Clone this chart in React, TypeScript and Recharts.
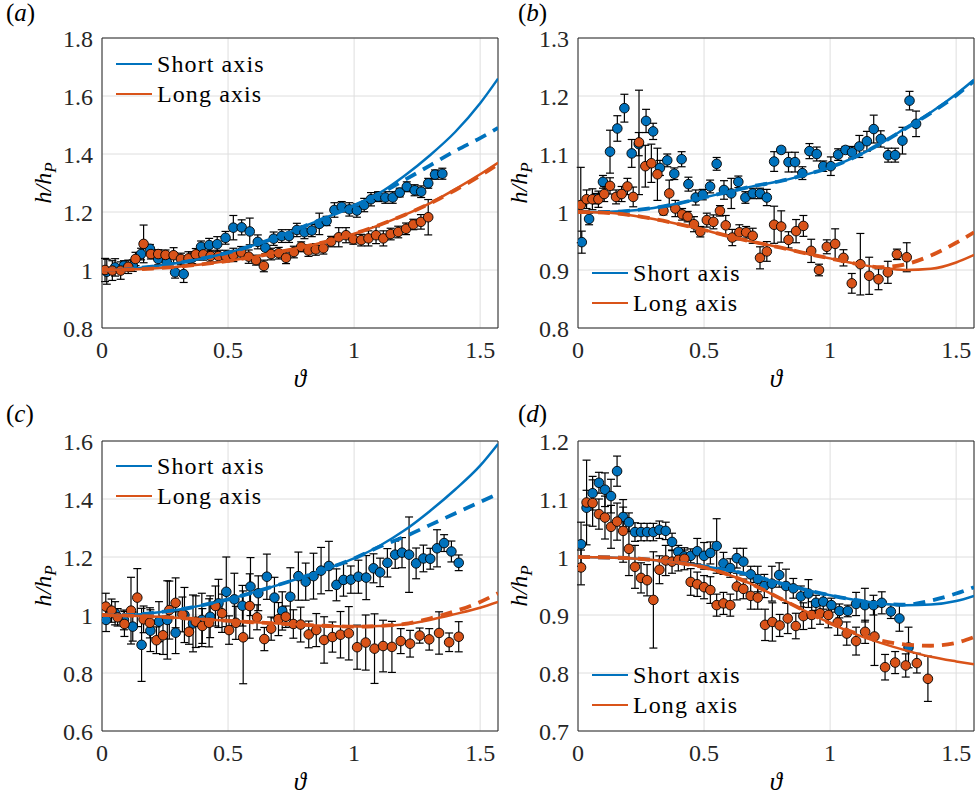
import React from 'react';
import {
  CartesianGrid,
  ComposedChart,
  ErrorBar,
  Legend,
  Line,
  Scatter,
  XAxis,
  YAxis,
} from 'recharts';

const BLUE = '#0072BD';
const ORANGE = '#D95319';
const AXIS = '#262626';
const GRID = '#dedede';
const FONT =
  "'Liberation Serif', 'DejaVu Serif', 'Noto Serif', 'Times New Roman', Times, FreeSerif, Georgia, serif";

type Pt = [number, number, number];
type Fit = [number, number];

// shared axis data
const xTicks = [0, 0.5, 1, 1.5];
const X_MAX = 1.5708;
const aTicks = [0.8, 1, 1.2, 1.4, 1.6, 1.8];
const bTicks = [0.8, 0.9, 1, 1.1, 1.2, 1.3];
const cTicks = [0.6, 0.8, 1, 1.2, 1.4, 1.6];
const dTicks = [0.7, 0.8, 0.9, 1, 1.1, 1.2];
const legendLabels = ['Short axis', 'Long axis'];

// (a) measured points: [theta, h/hP, error]
const aShortPts: Pt[] = [
  [0.019, 0.994, 0.043], [0.052, 1.009, 0.03], [0.087, 1.015, 0.017], [0.122, 1.015, 0.02],
  [0.155, 1.055, 0.02], [0.19, 1.073, 0.015], [0.223, 1.038, 0.02], [0.257, 1.027, 0.018],
  [0.29, 0.992, 0.02], [0.324, 0.986, 0.029], [0.358, 1.042, 0.02], [0.393, 1.08, 0.02],
  [0.425, 1.086, 0.023], [0.457, 1.089, 0.026], [0.49, 1.111, 0.022], [0.521, 1.146, 0.042],
  [0.554, 1.147, 0.026], [0.586, 1.133, 0.046], [0.618, 1.097, 0.024], [0.648, 1.077, 0.021],
  [0.681, 1.108, 0.023], [0.713, 1.117, 0.022], [0.742, 1.117, 0.022], [0.773, 1.138, 0.023],
  [0.803, 1.13, 0.022], [0.832, 1.136, 0.021], [0.862, 1.159, 0.037], [0.891, 1.169, 0.016],
  [0.922, 1.207, 0.025], [0.951, 1.218, 0.018], [0.981, 1.209, 0.023], [1.011, 1.205, 0.023],
  [1.04, 1.224, 0.023], [1.067, 1.244, 0.023], [1.095, 1.253, 0.017], [1.124, 1.25, 0.02],
  [1.153, 1.25, 0.02], [1.181, 1.267, 0.015], [1.209, 1.287, 0.017], [1.24, 1.275, 0.019],
  [1.266, 1.27, 0.02], [1.294, 1.299, 0.017], [1.321, 1.329, 0.016], [1.35, 1.332, 0.019],
];
const aLongPts: Pt[] = [
  [0.012, 1.0, 0.04], [0.041, 0.998, 0.034], [0.074, 0.998, 0.03], [0.104, 1.011, 0.023],
  [0.133, 1.038, 0.023], [0.165, 1.09, 0.065], [0.194, 1.055, 0.017], [0.223, 1.055, 0.015],
  [0.252, 1.052, 0.017], [0.284, 1.051, 0.026], [0.313, 1.038, 0.02], [0.343, 1.04, 0.023],
  [0.372, 1.054, 0.02], [0.402, 1.054, 0.02], [0.431, 1.048, 0.02], [0.462, 1.048, 0.02],
  [0.491, 1.048, 0.02], [0.521, 1.052, 0.023], [0.552, 1.061, 0.02], [0.582, 1.046, 0.023],
  [0.611, 1.034, 0.017], [0.642, 1.014, 0.02], [0.671, 1.055, 0.02], [0.701, 1.058, 0.02],
  [0.73, 1.042, 0.02], [0.761, 1.062, 0.02], [0.79, 1.08, 0.017], [0.819, 1.067, 0.02],
  [0.848, 1.071, 0.02], [0.878, 1.075, 0.02], [0.909, 1.098, 0.018], [0.939, 1.113, 0.033],
  [0.968, 1.12, 0.026], [0.997, 1.106, 0.017], [1.028, 1.103, 0.02], [1.057, 1.109, 0.026],
  [1.087, 1.12, 0.029], [1.116, 1.109, 0.026], [1.145, 1.124, 0.02], [1.175, 1.131, 0.02],
  [1.206, 1.142, 0.02], [1.235, 1.157, 0.018], [1.265, 1.166, 0.025], [1.294, 1.182, 0.061],
];
const aShortFit: Fit[] = [
  [0, 1.0], [0.1, 1.003], [0.2, 1.012], [0.3, 1.024], [0.4, 1.04], [0.5, 1.06], [0.6, 1.085],
  [0.7, 1.115], [0.8, 1.15], [0.9, 1.185], [1.0, 1.222], [1.1, 1.265], [1.2, 1.325],
  [1.3, 1.395], [1.4, 1.475], [1.5, 1.575], [1.571, 1.66],
];
const aShortAsym: Fit[] = [
  [0, 1.0], [0.1, 1.003], [0.2, 1.012], [0.3, 1.024], [0.4, 1.04], [0.5, 1.06], [0.6, 1.085],
  [0.7, 1.115], [0.8, 1.15], [0.9, 1.185], [1.0, 1.222], [1.1, 1.262], [1.2, 1.31],
  [1.3, 1.36], [1.4, 1.41], [1.5, 1.455], [1.571, 1.49],
];
const aLongFit: Fit[] = [
  [0, 1.0], [0.2, 1.005], [0.4, 1.02], [0.6, 1.045], [0.8, 1.08], [0.9, 1.1], [1.0, 1.125],
  [1.1, 1.155], [1.2, 1.19], [1.3, 1.23], [1.4, 1.278], [1.5, 1.33], [1.571, 1.37],
];
const aLongAsym: Fit[] = [
  [0, 1.0], [0.2, 1.005], [0.4, 1.02], [0.6, 1.045], [0.8, 1.08], [0.9, 1.1], [1.0, 1.125],
  [1.1, 1.155], [1.2, 1.19], [1.3, 1.229], [1.4, 1.275], [1.5, 1.325], [1.571, 1.365],
];

// (b)
const bShortPts: Pt[] = [
  [0.015, 0.948, 0.019], [0.044, 0.988, 0.01], [0.071, 1.023, 0.009], [0.099, 1.052, 0.011],
  [0.127, 1.104, 0.037], [0.156, 1.144, 0.022], [0.184, 1.179, 0.024], [0.213, 1.101, 0.024],
  [0.241, 1.117, 0.02], [0.27, 1.157, 0.02], [0.298, 1.139, 0.014], [0.325, 1.076, 0.013],
  [0.354, 1.089, 0.011], [0.382, 1.066, 0.01], [0.411, 1.091, 0.013], [0.438, 1.048, 0.012],
  [0.467, 1.025, 0.013], [0.495, 1.03, 0.009], [0.524, 1.044, 0.011], [0.55, 1.083, 0.011],
  [0.579, 1.038, 0.016], [0.608, 1.032, 0.026], [0.636, 1.052, 0.01], [0.664, 1.025, 0.01],
  [0.693, 1.032, 0.009], [0.722, 1.032, 0.009], [0.749, 1.025, 0.014], [0.778, 1.087, 0.017],
  [0.806, 1.107, 0.005], [0.835, 1.086, 0.017], [0.861, 1.086, 0.017], [0.89, 1.067, 0.011],
  [0.918, 1.105, 0.013], [0.947, 1.1, 0.012], [0.973, 1.079, 0.009], [1.003, 1.079, 0.016],
  [1.032, 1.099, 0.01], [1.061, 1.107, 0.006], [1.087, 1.103, 0.01], [1.116, 1.113, 0.019],
  [1.146, 1.122, 0.017], [1.173, 1.143, 0.024], [1.201, 1.126, 0.014], [1.23, 1.098, 0.012],
  [1.258, 1.098, 0.012], [1.287, 1.123, 0.023], [1.315, 1.192, 0.016], [1.341, 1.152, 0.022],
];
const bLongPts: Pt[] = [
  [0.011, 1.012, 0.065], [0.034, 1.022, 0.016], [0.057, 1.022, 0.018], [0.081, 1.022, 0.014],
  [0.104, 1.031, 0.013], [0.127, 1.045, 0.014], [0.151, 1.026, 0.012], [0.173, 1.031, 0.013],
  [0.196, 1.044, 0.014], [0.219, 1.026, 0.017], [0.242, 1.12, 0.09], [0.267, 1.079, 0.036],
  [0.291, 1.084, 0.033], [0.315, 1.065, 0.045], [0.339, 1.002, 0.007], [0.362, 1.032, 0.023],
  [0.386, 1.006, 0.014], [0.413, 0.996, 0.01], [0.435, 0.992, 0.009], [0.46, 0.979, 0.013],
  [0.485, 0.966, 0.009], [0.511, 0.986, 0.012], [0.537, 0.983, 0.012], [0.563, 1.002, 0.009],
  [0.586, 0.977, 0.017], [0.612, 0.956, 0.014], [0.64, 0.965, 0.013], [0.667, 0.965, 0.01],
  [0.693, 0.959, 0.013], [0.722, 0.921, 0.019], [0.749, 0.932, 0.017], [0.778, 0.978, 0.032],
  [0.806, 0.975, 0.027], [0.835, 0.952, 0.014], [0.865, 0.967, 0.02], [0.894, 0.976, 0.018],
  [0.925, 0.933, 0.02], [0.956, 0.9, 0.01], [0.987, 0.94, 0.012], [1.02, 0.945, 0.026],
  [1.053, 0.921, 0.014], [1.086, 0.877, 0.017], [1.12, 0.91, 0.053], [1.155, 0.89, 0.032],
  [1.192, 0.884, 0.018], [1.229, 0.896, 0.019], [1.265, 0.927, 0.009], [1.304, 0.922, 0.025],
];
const bShortFit: Fit[] = [
  [0, 1.0], [0.1, 1.0], [0.2, 1.002], [0.3, 1.007], [0.4, 1.015], [0.5, 1.025], [0.6, 1.035],
  [0.7, 1.045], [0.8, 1.053], [0.9, 1.064], [1.0, 1.077], [1.1, 1.095], [1.2, 1.118],
  [1.3, 1.145], [1.4, 1.172], [1.5, 1.203], [1.571, 1.228],
];
const bShortAsym: Fit[] = [
  [0, 1.0], [0.1, 1.0], [0.2, 1.002], [0.3, 1.007], [0.4, 1.015], [0.5, 1.025], [0.6, 1.035],
  [0.7, 1.045], [0.8, 1.053], [0.9, 1.064], [1.0, 1.077], [1.1, 1.095], [1.2, 1.118],
  [1.3, 1.144], [1.4, 1.171], [1.5, 1.201], [1.571, 1.226],
];
const bLongFit: Fit[] = [
  [0, 1.0], [0.1, 0.999], [0.2, 0.995], [0.3, 0.988], [0.4, 0.979], [0.5, 0.969], [0.6, 0.958],
  [0.7, 0.948], [0.8, 0.939], [0.9, 0.929], [1.0, 0.92], [1.1, 0.911], [1.2, 0.904],
  [1.3, 0.9], [1.4, 0.902], [1.5, 0.913], [1.571, 0.926],
];
const bLongAsym: Fit[] = [
  [0, 1.0], [0.1, 0.999], [0.2, 0.995], [0.3, 0.988], [0.4, 0.979], [0.5, 0.969], [0.6, 0.958],
  [0.7, 0.948], [0.8, 0.939], [0.9, 0.929], [1.0, 0.92], [1.1, 0.911], [1.2, 0.905],
  [1.3, 0.91], [1.4, 0.925], [1.5, 0.947], [1.571, 0.965],
];

// (c)
const cShortPts: Pt[] = [
  [0.016, 0.983, 0.04], [0.052, 1.006, 0.04], [0.087, 0.983, 0.034], [0.122, 0.96, 0.05],
  [0.157, 0.897, 0.126], [0.192, 0.946, 0.072], [0.226, 0.977, 0.069], [0.259, 0.983, 0.135],
  [0.292, 0.939, 0.072], [0.327, 1.0, 0.095], [0.361, 0.971, 0.098], [0.396, 0.983, 0.092],
  [0.429, 0.994, 0.072], [0.462, 1.04, 0.083], [0.493, 1.08, 0.12], [0.525, 1.054, 0.09],
  [0.557, 1.032, 0.07], [0.589, 1.098, 0.1], [0.62, 1.075, 0.06], [0.654, 1.132, 0.078],
  [0.684, 1.06, 0.07], [0.715, 1.014, 0.066], [0.747, 1.063, 0.1], [0.779, 1.134, 0.083],
  [0.808, 1.115, 0.064], [0.839, 1.134, 0.079], [0.869, 1.153, 0.08], [0.9, 1.169, 0.085],
  [0.93, 1.104, 0.055], [0.958, 1.121, 0.056], [0.987, 1.122, 0.047], [1.017, 1.132, 0.057],
  [1.048, 1.129, 0.076], [1.077, 1.161, 0.05], [1.103, 1.147, 0.049], [1.132, 1.18, 0.049],
  [1.163, 1.208, 0.047], [1.19, 1.215, 0.052], [1.218, 1.208, 0.13], [1.246, 1.178, 0.053],
  [1.275, 1.195, 0.046], [1.302, 1.194, 0.036], [1.329, 1.23, 0.064], [1.357, 1.248, 0.029],
  [1.386, 1.219, 0.036], [1.415, 1.18, 0.027],
];
const cLongPts: Pt[] = [
  [0.015, 1.029, 0.046], [0.038, 1.015, 0.04], [0.062, 0.992, 0.03], [0.089, 0.969, 0.043],
  [0.115, 1.015, 0.115], [0.14, 1.06, 0.1], [0.165, 0.985, 0.046], [0.19, 0.973, 0.052],
  [0.216, 0.913, 0.046], [0.242, 0.93, 0.066], [0.267, 1.017, 0.1], [0.292, 1.042, 0.086],
  [0.319, 1.002, 0.06], [0.345, 0.942, 0.043], [0.372, 0.977, 0.089], [0.398, 0.962, 0.06],
  [0.425, 0.973, 0.083], [0.45, 1.031, 0.069], [0.476, 1.006, 0.066], [0.504, 0.948, 0.049],
  [0.531, 0.973, 0.057], [0.56, 0.923, 0.16], [0.586, 1.031, 0.111], [0.615, 0.992, 0.043],
  [0.644, 0.917, 0.04], [0.671, 0.953, 0.04], [0.7, 0.986, 0.057], [0.729, 0.994, 0.037],
  [0.759, 0.969, 0.049], [0.788, 0.967, 0.06], [0.82, 0.933, 0.046], [0.85, 0.948, 0.057],
  [0.881, 0.914, 0.08], [0.914, 0.924, 0.052], [0.946, 0.932, 0.08], [0.979, 0.937, 0.092],
  [1.012, 0.889, 0.076], [1.046, 0.905, 0.095], [1.081, 0.884, 0.12], [1.115, 0.893, 0.089],
  [1.15, 0.89, 0.088], [1.185, 0.91, 0.043], [1.222, 0.901, 0.046], [1.26, 0.929, 0.026],
  [1.298, 0.916, 0.037], [1.337, 0.938, 0.073], [1.377, 0.906, 0.032], [1.415, 0.925, 0.052],
];
const cShortFit: Fit[] = [
  [0, 1.0], [0.1, 1.0], [0.2, 1.007], [0.3, 1.018], [0.4, 1.034], [0.5, 1.054], [0.6, 1.078],
  [0.7, 1.104], [0.8, 1.132], [0.9, 1.162], [1.0, 1.195], [1.1, 1.238], [1.2, 1.292],
  [1.3, 1.358], [1.4, 1.432], [1.5, 1.515], [1.571, 1.59],
];
const cShortAsym: Fit[] = [
  [0, 1.0], [0.1, 1.0], [0.2, 1.007], [0.3, 1.018], [0.4, 1.034], [0.5, 1.054], [0.6, 1.078],
  [0.7, 1.104], [0.8, 1.132], [0.9, 1.162], [1.0, 1.195], [1.1, 1.235], [1.2, 1.27],
  [1.3, 1.31], [1.4, 1.35], [1.5, 1.39], [1.571, 1.418],
];
const cLongFit: Fit[] = [
  [0, 1.0], [0.2, 0.995], [0.4, 0.985], [0.6, 0.975], [0.8, 0.966], [0.9, 0.962], [1.0, 0.96],
  [1.1, 0.962], [1.2, 0.968], [1.3, 0.983], [1.4, 1.003], [1.5, 1.025], [1.571, 1.045],
];
const cLongAsym: Fit[] = [
  [0, 1.0], [0.2, 0.995], [0.4, 0.985], [0.6, 0.975], [0.8, 0.966], [0.9, 0.962], [1.0, 0.96],
  [1.1, 0.962], [1.2, 0.969], [1.3, 0.988], [1.4, 1.013], [1.5, 1.045], [1.571, 1.075],
];

// (d)
const dShortPts: Pt[] = [
  [0.012, 1.022, 0.038], [0.034, 1.085, 0.03], [0.058, 1.11, 0.029], [0.083, 1.128, 0.018],
  [0.107, 1.116, 0.029], [0.131, 1.105, 0.029], [0.155, 1.148, 0.026], [0.179, 1.069, 0.017],
  [0.202, 1.06, 0.016], [0.226, 1.043, 0.016], [0.25, 1.043, 0.015], [0.274, 1.043, 0.015],
  [0.299, 1.043, 0.015], [0.323, 1.047, 0.015], [0.348, 1.045, 0.015], [0.373, 1.026, 0.015],
  [0.398, 1.009, 0.011], [0.422, 1.001, 0.011], [0.447, 1.002, 0.012], [0.473, 1.01, 0.022],
  [0.5, 1.002, 0.023], [0.525, 1.007, 0.019], [0.55, 1.019, 0.047], [0.577, 0.989, 0.019],
  [0.604, 0.981, 0.016], [0.63, 0.998, 0.017], [0.656, 0.992, 0.023], [0.685, 0.97, 0.014],
  [0.713, 0.962, 0.022], [0.739, 0.95, 0.02], [0.769, 0.954, 0.03], [0.798, 0.969, 0.021],
  [0.825, 0.95, 0.029], [0.854, 0.946, 0.017], [0.884, 0.932, 0.018], [0.914, 0.937, 0.024],
  [0.944, 0.921, 0.013], [0.973, 0.923, 0.013], [1.005, 0.917, 0.012], [1.037, 0.907, 0.012],
  [1.07, 0.907, 0.01], [1.103, 0.919, 0.02], [1.138, 0.917, 0.029], [1.172, 0.917, 0.017],
  [1.205, 0.921, 0.019], [1.241, 0.906, 0.012], [1.275, 0.894, 0.022], [1.311, 0.844, 0.035],
];
const dLongPts: Pt[] = [
  [0.012, 0.982, 0.03], [0.034, 1.094, 0.073], [0.058, 1.093, 0.04], [0.083, 1.074, 0.026],
  [0.107, 1.068, 0.037], [0.131, 1.052, 0.037], [0.155, 1.061, 0.032], [0.179, 1.045, 0.054],
  [0.202, 1.014, 0.046], [0.226, 0.983, 0.037], [0.25, 0.964, 0.026], [0.274, 0.96, 0.027],
  [0.299, 0.926, 0.083], [0.323, 0.978, 0.024], [0.348, 0.994, 0.026], [0.373, 0.992, 0.02],
  [0.398, 0.995, 0.019], [0.422, 0.997, 0.019], [0.447, 0.957, 0.023], [0.473, 0.953, 0.021],
  [0.5, 0.948, 0.02], [0.525, 0.943, 0.023], [0.55, 0.917, 0.019], [0.577, 0.92, 0.019],
  [0.604, 0.917, 0.019], [0.63, 0.949, 0.023], [0.656, 0.945, 0.017], [0.685, 0.933, 0.023],
  [0.713, 0.93, 0.02], [0.742, 0.883, 0.027], [0.771, 0.888, 0.033], [0.8, 0.882, 0.019],
  [0.832, 0.894, 0.026], [0.864, 0.881, 0.022], [0.894, 0.898, 0.023], [0.927, 0.9, 0.023],
  [0.96, 0.903, 0.019], [0.993, 0.9, 0.022], [1.03, 0.887, 0.022], [1.066, 0.868, 0.02],
  [1.103, 0.855, 0.024], [1.139, 0.871, 0.02], [1.176, 0.863, 0.05], [1.218, 0.81, 0.022],
  [1.258, 0.818, 0.019], [1.3, 0.813, 0.02], [1.344, 0.817, 0.017], [1.388, 0.79, 0.039],
];
const dShortFit: Fit[] = [
  [0, 1.0], [0.2, 0.998], [0.4, 0.99], [0.5, 0.984], [0.6, 0.977], [0.7, 0.967], [0.8, 0.955],
  [0.9, 0.944], [1.0, 0.934], [1.1, 0.926], [1.2, 0.92], [1.3, 0.917], [1.4, 0.918],
  [1.5, 0.924], [1.571, 0.933],
];
const dShortAsym: Fit[] = [
  [0, 1.0], [0.2, 0.998], [0.4, 0.99], [0.5, 0.984], [0.6, 0.977], [0.7, 0.967], [0.8, 0.955],
  [0.9, 0.944], [1.0, 0.934], [1.1, 0.926], [1.2, 0.92], [1.3, 0.918], [1.4, 0.925],
  [1.5, 0.937], [1.571, 0.948],
];
const dLongFit: Fit[] = [
  [0, 1.0], [0.2, 0.998], [0.3, 0.995], [0.4, 0.99], [0.5, 0.982], [0.6, 0.969], [0.7, 0.951],
  [0.8, 0.929], [0.9, 0.907], [1.0, 0.886], [1.1, 0.867], [1.2, 0.852], [1.3, 0.839],
  [1.4, 0.828], [1.5, 0.82], [1.571, 0.815],
];
const dLongAsym: Fit[] = [
  [0, 1.0], [0.2, 0.998], [0.3, 0.995], [0.4, 0.99], [0.5, 0.982], [0.6, 0.969], [0.7, 0.951],
  [0.8, 0.929], [0.9, 0.907], [1.0, 0.886], [1.1, 0.869], [1.2, 0.856], [1.3, 0.849],
  [1.4, 0.847], [1.5, 0.852], [1.571, 0.862],
];

const toPts = (a: Pt[]) => a.map(([x, y, e]) => ({ x, y, e }));
const toFit = (a: Fit[]) => a.map(([x, y]) => ({ x, y }));

const fmt = (v: number) => String(v);
const tickStyle = { fill: AXIS, fontSize: 24, fontFamily: FONT };

const marker = (fill: string) => (p: any) => (
  <circle cx={p.cx} cy={p.cy} r={4.8} fill={fill} stroke="#000" strokeWidth={0.9} />
);

const LegendBox = () => (
  <div style={{ fontFamily: FONT, fontSize: 24, color: '#000' }}>
    {legendLabels.map((label, i) => (
      <div key={label} style={{ display: 'flex', alignItems: 'center', height: 30 }}>
        <span
          style={{
            display: 'inline-block',
            width: 36,
            height: 2.5,
            marginRight: 5,
            background: i === 0 ? BLUE : ORANGE,
          }}
        />
        <span style={{ letterSpacing: 1.1, whiteSpace: 'nowrap' }}>{label}</span>
      </div>
    ))}
  </div>
);

interface PanelProps {
  left: number;
  top: number;
  width: number;
  height: number;
  margin: { top: number; right: number; bottom: number; left: number };
  yDomain: [number, number];
  yTicks: number[];
  shortPts: Pt[];
  longPts: Pt[];
  shortFit: Fit[];
  shortAsym: Fit[];
  longFit: Fit[];
  longAsym: Fit[];
  legendTop: number;
}

function Panel(props: PanelProps) {
  const { left, top, width, height, margin, yDomain, yTicks, legendTop } = props;
  const plotBottom = height - margin.bottom - 30;
  const midY = (margin.top + plotBottom) / 2;
  const midX = margin.left + 60 + (width - margin.left - 60 - margin.right) / 2;

  const frame = { stroke: AXIS, strokeWidth: 1 };

  return (
    <div style={{ position: 'absolute', left, top, width, height }}>
      <ComposedChart width={width} height={height} margin={margin}>
        <CartesianGrid stroke={GRID} strokeWidth={1} />
        <XAxis
          dataKey="x"
          type="number"
          domain={[0, X_MAX]}
          ticks={xTicks}
          allowDataOverflow
          axisLine={false}
          tickLine={false}
          tickSize={0}
          tickMargin={13}
          height={30}
          tick={tickStyle}
          tickFormatter={fmt}
          label={() => (
            <text x={midX} y={plotBottom + 59} textAnchor="middle" fontFamily={FONT} fontSize={25} fontStyle="italic" fill="#000">
              ϑ
            </text>
          )}
        />
        <YAxis
          type="number"
          domain={yDomain}
          ticks={yTicks}
          allowDataOverflow
          axisLine={false}
          tickLine={false}
          tickSize={0}
          tickMargin={9}
          width={60}
          tick={tickStyle}
          tickFormatter={fmt}
          label={() => (
            <text
              x={51}
              y={midY}
              transform={`rotate(-90 51 ${midY})`}
              textAnchor="middle"
              fontFamily={FONT}
              fontSize={24}
              fontStyle="italic"
              fill="#000"
            >
              h/h<tspan fontSize={17} dy={5}>P</tspan>
            </text>
          )}
        />
        {/* box frame with inward ticks */}
        <XAxis xAxisId="bf" type="number" orientation="bottom" mirror domain={[0, X_MAX]} ticks={xTicks} allowDataOverflow tick={false} tickSize={5} tickLine={frame} axisLine={frame} />
        <XAxis xAxisId="tf" type="number" orientation="top" mirror domain={[0, X_MAX]} ticks={xTicks} allowDataOverflow tick={false} tickSize={5} tickLine={frame} axisLine={frame} />
        <YAxis yAxisId="lf" type="number" orientation="left" mirror domain={yDomain} ticks={yTicks} allowDataOverflow tick={false} tickSize={5} tickLine={frame} axisLine={frame} />
        <YAxis yAxisId="rf" type="number" orientation="right" mirror domain={yDomain} ticks={yTicks} allowDataOverflow tick={false} tickSize={5} tickLine={frame} axisLine={frame} />

        <Scatter data={toPts(props.shortPts)} dataKey="y" shape={marker(BLUE)} isAnimationActive={false}>
          <ErrorBar dataKey="e" direction="y" width={4} stroke="#000" strokeWidth={1.2} />
        </Scatter>
        <Scatter data={toPts(props.longPts)} dataKey="y" shape={marker(ORANGE)} isAnimationActive={false}>
          <ErrorBar dataKey="e" direction="y" width={4} stroke="#000" strokeWidth={1.2} />
        </Scatter>

        <Line data={toFit(props.shortAsym)} dataKey="y" type="monotone" stroke={BLUE} strokeWidth={3.8} strokeDasharray="12 8" dot={false} activeDot={false} isAnimationActive={false} zIndex={700} />
        <Line data={toFit(props.shortFit)} dataKey="y" type="monotone" stroke={BLUE} strokeWidth={2.5} dot={false} activeDot={false} isAnimationActive={false} zIndex={700} />
        <Line data={toFit(props.longAsym)} dataKey="y" type="monotone" stroke={ORANGE} strokeWidth={3.8} strokeDasharray="12 8" dot={false} activeDot={false} isAnimationActive={false} zIndex={700} />
        <Line data={toFit(props.longFit)} dataKey="y" type="monotone" stroke={ORANGE} strokeWidth={2.5} dot={false} activeDot={false} isAnimationActive={false} zIndex={700} />

        <Legend
          layout="vertical"
          align="center"
          verticalAlign="middle"
          content={() => <LegendBox />}
          wrapperStyle={{ left: 116, top: legendTop, width: 200, height: 62 }}
        />
      </ComposedChart>
    </div>
  );
}

const titleStyle: React.CSSProperties = {
  position: 'absolute',
  fontFamily: FONT,
  fontSize: 25,
  lineHeight: '25px',
  color: '#000',
};

export default function App() {
  const topMargin = { top: 38, right: 2, bottom: 42, left: 42 };
  const topMarginR = { top: 38, right: 1, bottom: 42, left: 42 };
  const botMargin = { top: 41, right: 2, bottom: 37, left: 42 };
  const botMarginR = { top: 41, right: 1, bottom: 37, left: 42 };

  return (
    <div style={{ position: 'absolute', left: 0, top: 0, width: 975, height: 798, background: '#fff', overflow: 'hidden', fontFamily: FONT }}>
      <Panel
        left={0} top={0} width={500} height={400} margin={topMargin}
        yDomain={[0.8, 1.8]} yTicks={aTicks}
        shortPts={aShortPts} longPts={aLongPts}
        shortFit={aShortFit} shortAsym={aShortAsym} longFit={aLongFit} longAsym={aLongAsym}
        legendTop={49}
      />
      <Panel
        left={476} top={0} width={499} height={400} margin={topMarginR}
        yDomain={[0.8, 1.3]} yTicks={bTicks}
        shortPts={bShortPts} longPts={bLongPts}
        shortFit={bShortFit} shortAsym={bShortAsym} longFit={bLongFit} longAsym={bLongAsym}
        legendTop={258}
      />
      <Panel
        left={0} top={400} width={500} height={398} margin={botMargin}
        yDomain={[0.6, 1.6]} yTicks={cTicks}
        shortPts={cShortPts} longPts={cLongPts}
        shortFit={cShortFit} shortAsym={cShortAsym} longFit={cLongFit} longAsym={cLongAsym}
        legendTop={51}
      />
      <Panel
        left={476} top={400} width={499} height={398} margin={botMarginR}
        yDomain={[0.7, 1.2]} yTicks={dTicks}
        shortPts={dShortPts} longPts={dLongPts}
        shortFit={dShortFit} shortAsym={dShortAsym} longFit={dLongFit} longAsym={dLongAsym}
        legendTop={260}
      />
      <div style={{ ...titleStyle, left: 6, top: 0 }}>(<i>a</i>)</div>
      <div style={{ ...titleStyle, left: 518, top: 0 }}>(<i>b</i>)</div>
      <div style={{ ...titleStyle, left: 6, top: 401 }}>(<i>c</i>)</div>
      <div style={{ ...titleStyle, left: 518, top: 401 }}>(<i>d</i>)</div>
    </div>
  );
}
